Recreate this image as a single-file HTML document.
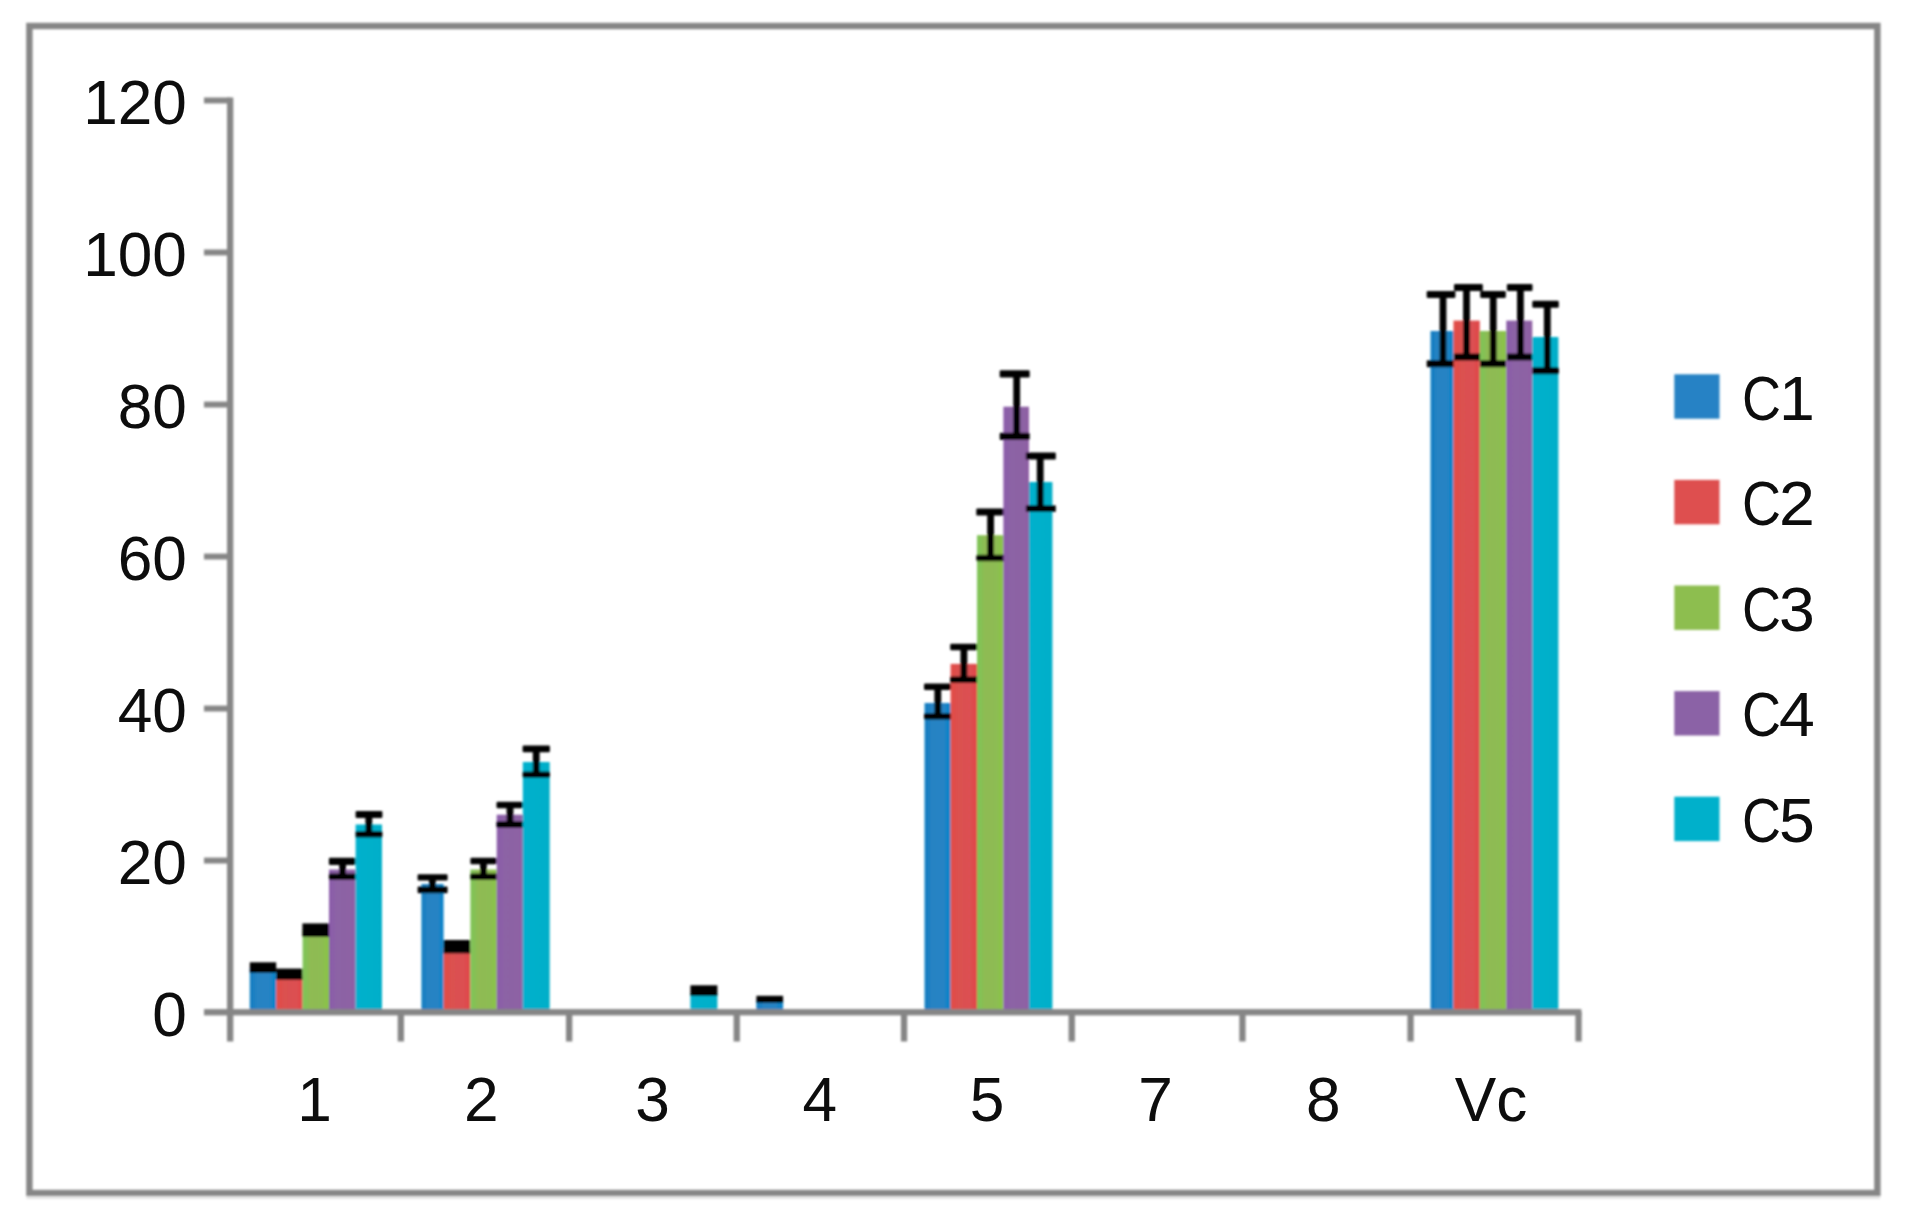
<!DOCTYPE html>
<html lang="en"><head><meta charset="utf-8"><title>Chart</title>
<style>
html,body{margin:0;padding:0;background:#fff;}
body{width:1908px;height:1227px;overflow:hidden;}
svg{display:block;}

svg text{font-family:"Liberation Sans",sans-serif;font-size:62.2px;fill:#0a0a0a;}
</style></head><body>
<svg width="1908" height="1227" viewBox="0 0 1908 1227">
<rect x="0" y="0" width="1908" height="1227" fill="#fff"/>
<defs>
<filter id="soft" x="0" y="0" width="1908" height="1227" filterUnits="userSpaceOnUse"><feGaussianBlur stdDeviation="0.9"/></filter>
<filter id="softt" x="0" y="0" width="1908" height="1227" filterUnits="userSpaceOnUse"><feGaussianBlur stdDeviation="0.55"/></filter>
<linearGradient id="gb" x1="0" x2="1" y1="0" y2="0"><stop offset="0" stop-color="#0A7AC0"/><stop offset="0.14" stop-color="#1B7FC2"/><stop offset="0.3" stop-color="#2883C3"/><stop offset="0.75" stop-color="#2683C4"/><stop offset="0.9" stop-color="#0C83C9"/><stop offset="1" stop-color="#0C83C9"/></linearGradient>
<linearGradient id="gr" x1="0" x2="1" y1="0" y2="0"><stop offset="0" stop-color="#E24C48"/><stop offset="0.15" stop-color="#E04D4A"/><stop offset="0.3" stop-color="#DB5150"/><stop offset="0.75" stop-color="#DC5052"/><stop offset="0.9" stop-color="#E0484B"/><stop offset="1" stop-color="#E0484B"/></linearGradient>
<linearGradient id="gg" x1="0" x2="1" y1="0" y2="0"><stop offset="0" stop-color="#7EC457"/><stop offset="0.15" stop-color="#84C155"/><stop offset="0.3" stop-color="#8FBB52"/><stop offset="0.75" stop-color="#8DBC53"/><stop offset="0.9" stop-color="#8AC349"/><stop offset="1" stop-color="#8AC349"/></linearGradient>
<linearGradient id="gp" x1="0" x2="1" y1="0" y2="0"><stop offset="0" stop-color="#8A5BAA"/><stop offset="0.3" stop-color="#8C63A5"/><stop offset="0.8" stop-color="#8D62A4"/><stop offset="1" stop-color="#9060A4"/></linearGradient>
<linearGradient id="gc" x1="0" x2="1" y1="0" y2="0"><stop offset="0" stop-color="#00B1CE"/><stop offset="0.3" stop-color="#00B0CB"/><stop offset="0.85" stop-color="#00AFCA"/><stop offset="1" stop-color="#00ADC6"/></linearGradient>
</defs>
<g id="chart" filter="url(#soft)">
<rect x="29.4" y="26" width="1848" height="1167" fill="none" stroke="#868686" stroke-width="6.4"/>
<rect x="26.5" y="1196.2" width="1853.6" height="2.8" fill="#e3e3e3"/>
<g id="bars">
<rect x="249.8" y="968.0" width="26.4" height="42.5" fill="url(#gb)"/>
<rect x="249.8" y="962.3" width="26.4" height="10.5" fill="#000"/>
<rect x="421.5" y="884.0" width="22.1" height="126.5" fill="url(#gb)"/>
<rect x="417.6" y="874.3" width="30.0" height="6.1" fill="#000" rx="1.2"/>
<rect x="417.6" y="886.4" width="30.0" height="6.8" fill="#000" rx="1.2"/>
<rect x="429.0" y="875.3" width="6.8" height="16.9" fill="#000"/>
<rect x="756.4" y="1000.0" width="26.7" height="10.5" fill="url(#gb)"/>
<rect x="756.4" y="995.8" width="26.7" height="7.0" fill="#000"/>
<rect x="924.6" y="703.0" width="26.0" height="307.5" fill="url(#gb)"/>
<rect x="924.0" y="683.4" width="27.0" height="6.6" fill="#000" rx="1.2"/>
<rect x="924.0" y="713.2" width="27.0" height="6.3" fill="#000" rx="1.2"/>
<rect x="934.4" y="684.4" width="6.8" height="34.1" fill="#000"/>
<rect x="1430.6" y="331.0" width="22.9" height="679.5" fill="url(#gb)"/>
<rect x="1426.7" y="291.0" width="28.7" height="7.0" fill="#000" rx="1.2"/>
<rect x="1426.7" y="360.2" width="28.7" height="7.0" fill="#000" rx="1.2"/>
<rect x="1439.6" y="292.0" width="6.8" height="74.2" fill="#000"/>
<rect x="276.2" y="975.0" width="26.4" height="35.5" fill="url(#gr)"/>
<rect x="276.2" y="968.6" width="26.4" height="11.1" fill="#000"/>
<rect x="443.6" y="948.0" width="26.8" height="62.5" fill="url(#gr)"/>
<rect x="443.6" y="940.0" width="26.8" height="13.4" fill="#000"/>
<rect x="950.6" y="663.9" width="26.4" height="346.6" fill="url(#gr)"/>
<rect x="950.2" y="643.7" width="27.8" height="6.5" fill="#000" rx="1.2"/>
<rect x="950.2" y="676.6" width="27.8" height="6.4" fill="#000" rx="1.2"/>
<rect x="960.5" y="644.7" width="6.8" height="37.3" fill="#000"/>
<rect x="1453.5" y="320.6" width="26.3" height="689.9" fill="url(#gr)"/>
<rect x="1454.0" y="283.9" width="28.8" height="7.0" fill="#000" rx="1.2"/>
<rect x="1454.0" y="353.6" width="28.8" height="7.0" fill="#000" rx="1.2"/>
<rect x="1463.1" y="284.9" width="6.8" height="74.7" fill="#000"/>
<rect x="302.6" y="930.0" width="26.4" height="80.5" fill="url(#gg)"/>
<rect x="302.4" y="923.4" width="26.6" height="13.5" fill="#000"/>
<rect x="470.4" y="869.5" width="26.3" height="141.0" fill="url(#gg)"/>
<rect x="470.4" y="857.8" width="26.3" height="6.5" fill="#000" rx="1.2"/>
<rect x="470.4" y="873.4" width="26.3" height="6.6" fill="#000" rx="1.2"/>
<rect x="480.0" y="858.8" width="6.8" height="20.2" fill="#000"/>
<rect x="977.0" y="535.2" width="26.4" height="475.3" fill="url(#gg)"/>
<rect x="976.3" y="508.4" width="28.2" height="7.2" fill="#000" rx="1.2"/>
<rect x="976.3" y="554.7" width="28.2" height="6.6" fill="#000" rx="1.2"/>
<rect x="987.2" y="509.4" width="6.8" height="50.9" fill="#000"/>
<rect x="1479.8" y="331.0" width="26.5" height="679.5" fill="url(#gg)"/>
<rect x="1480.2" y="291.0" width="25.6" height="7.0" fill="#000" rx="1.2"/>
<rect x="1480.2" y="360.2" width="25.6" height="7.0" fill="#000" rx="1.2"/>
<rect x="1489.8" y="292.0" width="6.8" height="74.2" fill="#000"/>
<rect x="329.0" y="869.5" width="26.6" height="141.0" fill="url(#gp)"/>
<rect x="328.9" y="857.8" width="26.7" height="7.2" fill="#000" rx="1.2"/>
<rect x="328.9" y="873.4" width="26.7" height="6.6" fill="#000" rx="1.2"/>
<rect x="339.2" y="858.8" width="6.8" height="20.2" fill="#000"/>
<rect x="496.7" y="814.7" width="26.1" height="195.8" fill="url(#gp)"/>
<rect x="496.5" y="801.7" width="26.3" height="6.5" fill="#000" rx="1.2"/>
<rect x="496.5" y="821.3" width="26.3" height="6.5" fill="#000" rx="1.2"/>
<rect x="506.6" y="802.7" width="6.8" height="24.1" fill="#000"/>
<rect x="1003.4" y="406.7" width="25.6" height="603.8" fill="url(#gp)"/>
<rect x="999.7" y="370.2" width="30.0" height="7.2" fill="#000" rx="1.2"/>
<rect x="999.7" y="432.8" width="30.0" height="7.2" fill="#000" rx="1.2"/>
<rect x="1013.3" y="371.2" width="6.8" height="67.8" fill="#000"/>
<rect x="1506.3" y="320.6" width="26.0" height="689.9" fill="url(#gp)"/>
<rect x="1506.9" y="283.9" width="25.6" height="7.0" fill="#000" rx="1.2"/>
<rect x="1506.9" y="353.6" width="25.6" height="7.0" fill="#000" rx="1.2"/>
<rect x="1517.0" y="284.9" width="6.8" height="74.7" fill="#000"/>
<rect x="355.6" y="824.5" width="26.4" height="186.0" fill="url(#gc)"/>
<rect x="355.6" y="810.9" width="26.8" height="7.1" fill="#000" rx="1.2"/>
<rect x="355.6" y="831.0" width="26.8" height="6.6" fill="#000" rx="1.2"/>
<rect x="365.4" y="811.9" width="6.8" height="24.7" fill="#000"/>
<rect x="522.8" y="762.0" width="26.9" height="248.5" fill="url(#gc)"/>
<rect x="522.6" y="745.6" width="27.3" height="6.6" fill="#000" rx="1.2"/>
<rect x="522.6" y="771.4" width="27.3" height="6.4" fill="#000" rx="1.2"/>
<rect x="532.8" y="746.6" width="6.8" height="30.2" fill="#000"/>
<rect x="690.4" y="993.0" width="27.0" height="17.5" fill="url(#gc)"/>
<rect x="690.4" y="985.3" width="27.0" height="10.7" fill="#000"/>
<rect x="1029.0" y="482.0" width="23.4" height="528.5" fill="url(#gc)"/>
<rect x="1025.8" y="452.4" width="30.0" height="7.2" fill="#000" rx="1.2"/>
<rect x="1025.8" y="505.2" width="30.0" height="6.7" fill="#000" rx="1.2"/>
<rect x="1036.8" y="453.4" width="6.8" height="57.5" fill="#000"/>
<rect x="1532.3" y="337.0" width="26.1" height="673.5" fill="url(#gc)"/>
<rect x="1532.3" y="300.8" width="26.5" height="7.0" fill="#000" rx="1.2"/>
<rect x="1532.3" y="367.3" width="26.5" height="7.0" fill="#000" rx="1.2"/>
<rect x="1543.9" y="301.8" width="6.8" height="71.5" fill="#000"/>
</g>
<g id="axes">
<rect x="227.0" y="97.5" width="6.3" height="944.0" fill="#868686"/>
<rect x="204.0" y="1009.1" width="1377.4" height="6.3" fill="#868686"/>
<rect x="204.0" y="97.5" width="26.2" height="5.9" fill="#868686"/>
<rect x="204.0" y="249.5" width="26.2" height="5.9" fill="#868686"/>
<rect x="204.0" y="401.6" width="26.2" height="5.9" fill="#868686"/>
<rect x="204.0" y="553.6" width="26.2" height="5.9" fill="#868686"/>
<rect x="204.0" y="705.6" width="26.2" height="5.9" fill="#868686"/>
<rect x="204.0" y="857.6" width="26.2" height="5.9" fill="#868686"/>
<rect x="397.7" y="1012.0" width="6.3" height="29.5" fill="#868686"/>
<rect x="566.0" y="1012.0" width="6.3" height="29.5" fill="#868686"/>
<rect x="733.6" y="1012.0" width="6.3" height="29.5" fill="#868686"/>
<rect x="900.9" y="1012.0" width="6.3" height="29.5" fill="#868686"/>
<rect x="1068.6" y="1012.0" width="6.3" height="29.5" fill="#868686"/>
<rect x="1239.3" y="1012.0" width="6.3" height="29.5" fill="#868686"/>
<rect x="1407.4" y="1012.0" width="6.3" height="29.5" fill="#868686"/>
<rect x="1575.4" y="1012.0" width="6.3" height="29.5" fill="#868686"/>
</g>
<g id="legend">
<rect x="1674.3" y="374.3" width="45.2" height="44.4" fill="#2682C5"/>
<rect x="1674.3" y="479.9" width="45.2" height="44.4" fill="#DE504F"/>
<rect x="1674.3" y="585.5" width="45.2" height="44.4" fill="#8DBE50"/>
<rect x="1674.3" y="691.1" width="45.2" height="44.4" fill="#8B62A6"/>
<rect x="1674.3" y="796.7" width="45.2" height="44.4" fill="#00B0CB"/>
</g>
</g>
<g id="labels" filter="url(#softt)">
<text x="186.9" y="123.6" text-anchor="end" textLength="103.7" lengthAdjust="spacingAndGlyphs">120</text>
<text x="186.9" y="275.6" text-anchor="end" textLength="103.7" lengthAdjust="spacingAndGlyphs">100</text>
<text x="186.9" y="427.6" text-anchor="end" textLength="69.2" lengthAdjust="spacingAndGlyphs">80</text>
<text x="186.9" y="579.6" text-anchor="end" textLength="69.2" lengthAdjust="spacingAndGlyphs">60</text>
<text x="186.9" y="731.6" text-anchor="end" textLength="69.2" lengthAdjust="spacingAndGlyphs">40</text>
<text x="186.9" y="883.6" text-anchor="end" textLength="69.2" lengthAdjust="spacingAndGlyphs">20</text>
<text x="186.9" y="1035.6" text-anchor="end" textLength="34.6" lengthAdjust="spacingAndGlyphs">0</text>
<text x="314.5" y="1121.0" text-anchor="middle">1</text>
<text x="481.4" y="1121.0" text-anchor="middle">2</text>
<text x="652.5" y="1121.0" text-anchor="middle">3</text>
<text x="819.9" y="1121.0" text-anchor="middle">4</text>
<text x="987.0" y="1121.0" text-anchor="middle">5</text>
<text x="1155.5" y="1121.0" text-anchor="middle">7</text>
<text x="1323.3" y="1121.0" text-anchor="middle">8</text>
<text x="1491.0" y="1121.0" text-anchor="middle">Vc</text>
<text x="1742" y="419.6"><tspan textLength="39" lengthAdjust="spacingAndGlyphs">C</tspan><tspan dx="-2" textLength="35.8" lengthAdjust="spacingAndGlyphs">1</tspan></text>
<text x="1742" y="525.2"><tspan textLength="39" lengthAdjust="spacingAndGlyphs">C</tspan><tspan dx="-2" textLength="35.8" lengthAdjust="spacingAndGlyphs">2</tspan></text>
<text x="1742" y="630.8"><tspan textLength="39" lengthAdjust="spacingAndGlyphs">C</tspan><tspan dx="-2" textLength="35.8" lengthAdjust="spacingAndGlyphs">3</tspan></text>
<text x="1742" y="736.4"><tspan textLength="39" lengthAdjust="spacingAndGlyphs">C</tspan><tspan dx="-2" textLength="35.8" lengthAdjust="spacingAndGlyphs">4</tspan></text>
<text x="1742" y="842.0"><tspan textLength="39" lengthAdjust="spacingAndGlyphs">C</tspan><tspan dx="-2" textLength="35.8" lengthAdjust="spacingAndGlyphs">5</tspan></text>
</g>
</svg>
</body></html>
